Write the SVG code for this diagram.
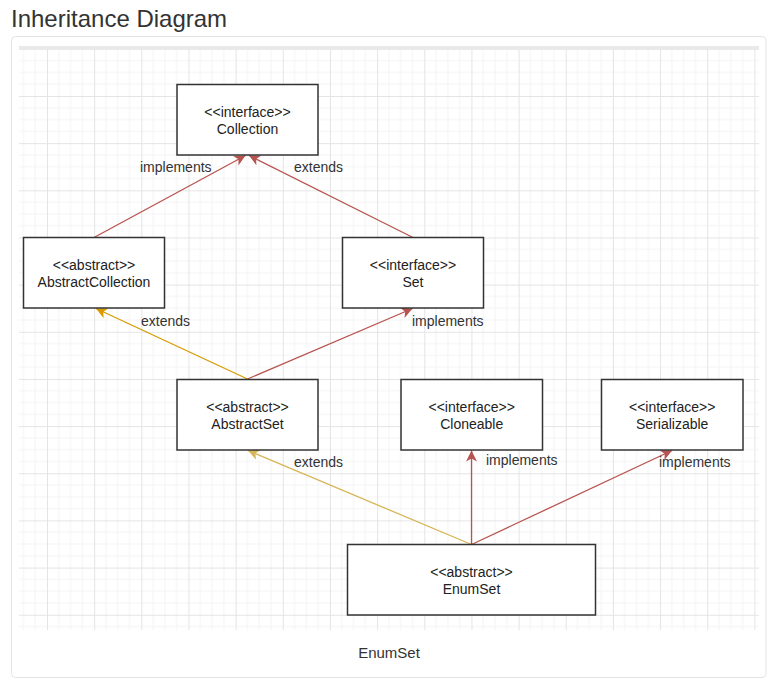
<svg xmlns="http://www.w3.org/2000/svg" width="773" height="684" viewBox="0 0 773 684">
<style>
.title{font-family:"Liberation Sans",Arial,sans-serif;font-size:24px;fill:#333}
.t{font-family:"Liberation Sans",Arial,sans-serif;font-size:14px;fill:#222;text-anchor:middle}
.lbl{font-family:"Liberation Sans",Arial,sans-serif;font-size:14px;fill:#333}
.box{fill:#fff;stroke:#333;stroke-width:1.5}
.e{fill:none;stroke-width:1.3}
.red{stroke:#b85450}
.org{stroke:#d79b00}
.yel{stroke:#d6b656}
</style>
<defs>
<pattern id="grid" patternUnits="userSpaceOnUse" x="-0.16" y="1.68" width="47.16" height="47.16">
<path d="M11.79 0V47.16M23.58 0V47.16M35.37 0V47.16M0 11.79H47.16M0 23.58H47.16M0 35.37H47.16" stroke="#f4f4f4" stroke-width="1" fill="none"/>
<path d="M0.5 0V47.16M0 0.5H47.16" stroke="#e4e4e4" stroke-width="1" fill="none"/>
</pattern>
<marker id="mr" markerUnits="userSpaceOnUse" viewBox="-12 -6 13 12" refX="0" refY="0" markerWidth="13" markerHeight="12" orient="auto"><path d="M0,0 L-11,-5.5 L-8,0 L-11,5.5 Z" fill="#b85450"/></marker>
<marker id="mo" markerUnits="userSpaceOnUse" viewBox="-12 -6 13 12" refX="0" refY="0" markerWidth="13" markerHeight="12" orient="auto"><path d="M0,0 L-11,-5.5 L-8,0 L-11,5.5 Z" fill="#d79b00"/></marker>
<marker id="my" markerUnits="userSpaceOnUse" viewBox="-12 -6 13 12" refX="0" refY="0" markerWidth="13" markerHeight="12" orient="auto"><path d="M0,0 L-11,-5.5 L-8,0 L-11,5.5 Z" fill="#d6b656"/></marker>
</defs>
<rect width="773" height="684" fill="#fff"/>
<text class="title" x="11" y="27">Inheritance Diagram</text>
<rect x="11.5" y="36.5" width="754.5" height="641" rx="4" fill="#fff" stroke="#e3e3e3"/>
<rect x="19" y="49" width="740" height="581" fill="url(#grid)"/>
<rect x="19" y="46" width="740" height="3" fill="#e9e9e9"/>

<g id="connectors">
<line class="e red" x1="94" y1="237.5" x2="245.5" y2="155.5" marker-end="url(#mr)"/>
<line class="e red" x1="413" y1="237.5" x2="249" y2="155.5" marker-end="url(#mr)"/>
<line class="e org" x1="247.5" y1="379" x2="96" y2="308.5" marker-end="url(#mo)"/>
<line class="e red" x1="247.5" y1="379" x2="412.5" y2="308.5" marker-end="url(#mr)"/>
<line class="e yel" x1="471.5" y1="544.5" x2="248" y2="450.5" marker-end="url(#my)"/>
<line class="e red" x1="471.5" y1="544.5" x2="471.5" y2="450.5" marker-end="url(#mr)"/>
<line class="e red" x1="471.5" y1="544.5" x2="672" y2="450.5" marker-end="url(#mr)"/>
<text class="lbl" x="140" y="172">implements</text>
<text class="lbl" x="294" y="172">extends</text>
<text class="lbl" x="141" y="326">extends</text>
<text class="lbl" x="412" y="326">implements</text>
<text class="lbl" x="294" y="467">extends</text>
<text class="lbl" x="486" y="465">implements</text>
<text class="lbl" x="659" y="467">implements</text>
</g>

<g id="collection">
<rect class="box" x="177" y="84.5" width="141" height="70.5"/>
<text class="t" x="247.5" y="117">&lt;&lt;interface&gt;&gt;</text>
<text class="t" x="247.5" y="133.5">Collection</text>
</g>
<g id="abstractcollection">
<rect class="box" x="23.5" y="237.5" width="141" height="70.5"/>
<text class="t" x="94" y="270">&lt;&lt;abstract&gt;&gt;</text>
<text class="t" x="94" y="286.5">AbstractCollection</text>
</g>
<g id="set">
<rect class="box" x="342.5" y="237.5" width="141" height="70.5"/>
<text class="t" x="413" y="270">&lt;&lt;interface&gt;&gt;</text>
<text class="t" x="413" y="286.5">Set</text>
</g>
<g id="abstractset">
<rect class="box" x="177" y="379.5" width="141" height="70.5"/>
<text class="t" x="247.5" y="412">&lt;&lt;abstract&gt;&gt;</text>
<text class="t" x="247.5" y="428.5">AbstractSet</text>
</g>
<g id="cloneable">
<rect class="box" x="401" y="379.5" width="141.5" height="70.5"/>
<text class="t" x="471.7" y="412">&lt;&lt;interface&gt;&gt;</text>
<text class="t" x="471.7" y="428.5">Cloneable</text>
</g>
<g id="serializable">
<rect class="box" x="601.5" y="379.5" width="141.5" height="70.5"/>
<text class="t" x="672.2" y="412">&lt;&lt;interface&gt;&gt;</text>
<text class="t" x="672.2" y="428.5">Serializable</text>
</g>
<g id="enumset">
<rect class="box" x="347.5" y="544.5" width="248" height="70.5"/>
<text class="t" x="471.5" y="577">&lt;&lt;abstract&gt;&gt;</text>
<text class="t" x="471.5" y="593.5">EnumSet</text>
</g>
<text class="t" x="389" y="658" style="font-size:15px;fill:#333">EnumSet</text>
</svg>
